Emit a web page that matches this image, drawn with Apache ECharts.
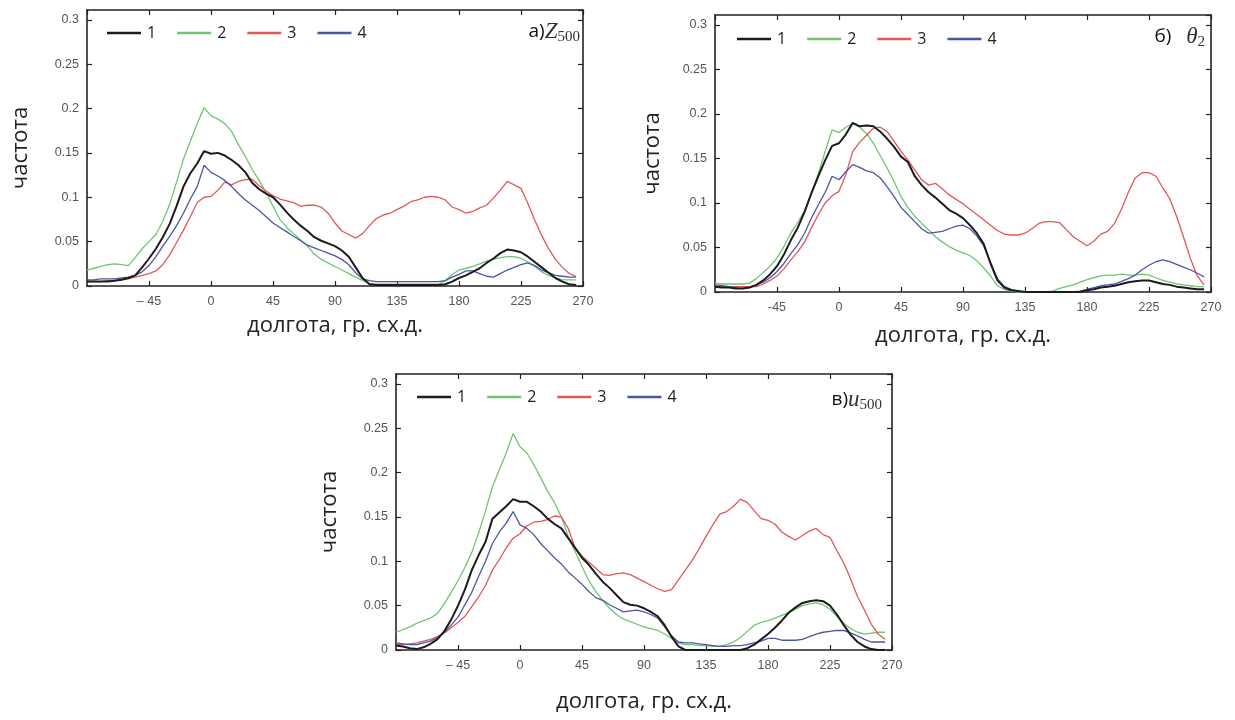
<!DOCTYPE html>
<html>
<head>
<meta charset="utf-8">
<script src="https://cdn.jsdelivr.net/npm/echarts@6/dist/echarts.min.js"></script>
<style>
  html, body { margin: 0; padding: 0; background: #fff; }
  #chart { width: 1235px; height: 720px; }
</style>
</head>
<body>
<div id="chart"></div>
<script>
// longitude, deg E (shared by every curve)
var lon = [-90, -85, -80, -75, -70, -65, -60, -55, -50, -45, -40, -35, -30, -25, -20, -15, -10, -5,
  0, 5, 10, 15, 20, 25, 30, 35, 40, 45, 50, 55, 60, 65, 70, 75, 80, 85,
  90, 95, 100, 105, 110, 115, 120, 125, 130, 135, 140, 145, 150, 155, 160, 165, 170, 175,
  180, 185, 190, 195, 200, 205, 210, 215, 220, 225, 230, 235, 240, 245, 250, 255, 260, 265];

var xTicks = [-90, -45, 0, 45, 90, 135, 180, 225, 270];
var yTicks = [0, 0.05, 0.1, 0.15, 0.2, 0.25, 0.3];
var names = ['1', '2', '3', '4'];

// а) Z500
var z500_1 = [0.005, 0.005, 0.005, 0.005, 0.006, 0.007, 0.009, 0.012, 0.021, 0.031, 0.042, 0.055, 0.070, 0.090, 0.112, 0.127, 0.138, 0.152,
  0.149, 0.150, 0.147, 0.142, 0.136, 0.128, 0.116, 0.109, 0.104, 0.100, 0.092, 0.083, 0.075, 0.068, 0.062, 0.055, 0.051, 0.048,
  0.045, 0.040, 0.033, 0.021, 0.009, 0.002, 0.001, 0.001, 0.001, 0.001, 0.001, 0.001, 0.001, 0.001, 0.001, 0.001, 0.002, 0.005,
  0.009, 0.012, 0.016, 0.020, 0.026, 0.031, 0.037, 0.041, 0.040, 0.038, 0.033, 0.027, 0.021, 0.015, 0.009, 0.005, 0.002, 0.001];
var z500_2 = [0.018, 0.020, 0.022, 0.024, 0.025, 0.024, 0.023, 0.032, 0.042, 0.050, 0.058, 0.073, 0.092, 0.117, 0.143, 0.163, 0.183, 0.201,
  0.192, 0.188, 0.183, 0.174, 0.159, 0.146, 0.131, 0.119, 0.105, 0.090, 0.075, 0.066, 0.059, 0.052, 0.045, 0.036, 0.030, 0.026,
  0.022, 0.018, 0.014, 0.010, 0.006, 0.003, 0.002, 0.002, 0.002, 0.002, 0.002, 0.002, 0.002, 0.002, 0.002, 0.002, 0.006, 0.013,
  0.018, 0.020, 0.022, 0.025, 0.028, 0.030, 0.032, 0.033, 0.033, 0.031, 0.027, 0.022, 0.016, 0.012, 0.009, 0.007, 0.007, 0.007];
var z500_3 = [0.005, 0.005, 0.005, 0.006, 0.006, 0.007, 0.008, 0.010, 0.012, 0.014, 0.017, 0.024, 0.035, 0.049, 0.063, 0.078, 0.094, 0.100,
  0.101, 0.108, 0.117, 0.114, 0.118, 0.120, 0.120, 0.113, 0.107, 0.102, 0.098, 0.096, 0.094, 0.090, 0.091, 0.091, 0.089, 0.082,
  0.071, 0.062, 0.058, 0.054, 0.059, 0.068, 0.076, 0.080, 0.082, 0.086, 0.090, 0.095, 0.097, 0.100, 0.101, 0.100, 0.097, 0.089,
  0.086, 0.082, 0.084, 0.088, 0.091, 0.099, 0.108, 0.118, 0.114, 0.110, 0.093, 0.074, 0.057, 0.042, 0.030, 0.021, 0.014, 0.011];
var z500_4 = [0.007, 0.007, 0.008, 0.008, 0.008, 0.009, 0.010, 0.012, 0.016, 0.023, 0.033, 0.045, 0.056, 0.068, 0.082, 0.098, 0.112, 0.136,
  0.128, 0.124, 0.119, 0.112, 0.104, 0.097, 0.091, 0.085, 0.078, 0.071, 0.066, 0.061, 0.056, 0.051, 0.046, 0.043, 0.040, 0.037,
  0.034, 0.030, 0.024, 0.015, 0.008, 0.006, 0.005, 0.005, 0.005, 0.005, 0.005, 0.005, 0.005, 0.005, 0.005, 0.005, 0.006, 0.010,
  0.013, 0.017, 0.017, 0.014, 0.011, 0.010, 0.014, 0.018, 0.021, 0.024, 0.026, 0.023, 0.018, 0.015, 0.012, 0.011, 0.010, 0.010];

// б) theta2
var th2_1 = [0.006, 0.005, 0.005, 0.004, 0.004, 0.005, 0.008, 0.013, 0.020, 0.029, 0.042, 0.058, 0.072, 0.090, 0.111, 0.130, 0.148, 0.164,
  0.167, 0.177, 0.190, 0.186, 0.187, 0.186, 0.180, 0.172, 0.163, 0.152, 0.146, 0.130, 0.120, 0.112, 0.106, 0.099, 0.092, 0.088,
  0.083, 0.075, 0.066, 0.054, 0.032, 0.013, 0.005, 0.002, 0.001, 0.000, 0.000, 0.000, 0.000, 0.000, 0.000, 0.000, 0.000, 0.000,
  0.002, 0.003, 0.005, 0.006, 0.007, 0.009, 0.011, 0.012, 0.013, 0.013, 0.011, 0.009, 0.008, 0.006, 0.005, 0.004, 0.003, 0.003];
var th2_2 = [0.010, 0.009, 0.009, 0.009, 0.009, 0.010, 0.015, 0.022, 0.029, 0.038, 0.051, 0.066, 0.078, 0.091, 0.111, 0.133, 0.158, 0.182,
  0.179, 0.185, 0.189, 0.185, 0.178, 0.167, 0.153, 0.139, 0.124, 0.107, 0.095, 0.085, 0.077, 0.070, 0.062, 0.056, 0.051, 0.047,
  0.044, 0.041, 0.035, 0.027, 0.018, 0.007, 0.003, 0.001, 0.000, 0.000, 0.000, 0.000, 0.000, 0.001, 0.004, 0.006, 0.008, 0.011,
  0.014, 0.016, 0.018, 0.019, 0.019, 0.020, 0.019, 0.019, 0.020, 0.019, 0.016, 0.013, 0.011, 0.009, 0.008, 0.007, 0.006, 0.006];
var th2_3 = [0.006, 0.006, 0.006, 0.006, 0.006, 0.006, 0.006, 0.009, 0.013, 0.018, 0.026, 0.036, 0.045, 0.056, 0.072, 0.087, 0.100, 0.108,
  0.113, 0.132, 0.158, 0.168, 0.176, 0.184, 0.185, 0.180, 0.169, 0.158, 0.148, 0.137, 0.126, 0.120, 0.122, 0.116, 0.109, 0.104,
  0.099, 0.093, 0.087, 0.081, 0.075, 0.069, 0.065, 0.064, 0.064, 0.066, 0.071, 0.077, 0.079, 0.079, 0.078, 0.070, 0.062, 0.057,
  0.052, 0.057, 0.065, 0.068, 0.077, 0.093, 0.112, 0.128, 0.134, 0.134, 0.130, 0.117, 0.105, 0.085, 0.062, 0.038, 0.018, 0.008];
var th2_4 = [0.008, 0.007, 0.006, 0.005, 0.004, 0.005, 0.008, 0.011, 0.016, 0.023, 0.032, 0.043, 0.053, 0.066, 0.083, 0.098, 0.112, 0.130,
  0.126, 0.135, 0.143, 0.140, 0.136, 0.134, 0.128, 0.118, 0.107, 0.095, 0.087, 0.079, 0.071, 0.066, 0.067, 0.068, 0.071, 0.074,
  0.075, 0.071, 0.063, 0.052, 0.033, 0.015, 0.006, 0.003, 0.001, 0.000, 0.000, 0.000, 0.000, 0.000, 0.000, 0.000, 0.000, 0.001,
  0.003, 0.005, 0.007, 0.008, 0.009, 0.012, 0.015, 0.019, 0.025, 0.030, 0.034, 0.036, 0.034, 0.031, 0.028, 0.025, 0.021, 0.017];

// в) u500
var u500_1 = [0.005, 0.004, 0.002, 0.001, 0.003, 0.007, 0.012, 0.021, 0.034, 0.050, 0.068, 0.090, 0.107, 0.122, 0.148, 0.155, 0.162, 0.170,
  0.167, 0.167, 0.162, 0.156, 0.148, 0.142, 0.137, 0.126, 0.115, 0.104, 0.096, 0.086, 0.077, 0.070, 0.062, 0.054, 0.051, 0.050,
  0.047, 0.043, 0.038, 0.028, 0.015, 0.004, 0.000, 0.000, 0.000, 0.000, 0.000, 0.000, 0.000, 0.000, 0.000, 0.002, 0.006, 0.012,
  0.018, 0.025, 0.033, 0.042, 0.048, 0.053, 0.055, 0.056, 0.055, 0.050, 0.040, 0.028, 0.017, 0.009, 0.004, 0.001, 0.000, 0.000];
var u500_2 = [0.020, 0.023, 0.026, 0.030, 0.033, 0.036, 0.041, 0.052, 0.065, 0.078, 0.093, 0.110, 0.132, 0.157, 0.184, 0.203, 0.222, 0.244,
  0.229, 0.222, 0.209, 0.194, 0.179, 0.166, 0.150, 0.128, 0.111, 0.094, 0.078, 0.066, 0.056, 0.047, 0.040, 0.035, 0.032, 0.029,
  0.026, 0.024, 0.022, 0.018, 0.013, 0.008, 0.006, 0.006, 0.005, 0.005, 0.004, 0.004, 0.006, 0.009, 0.014, 0.021, 0.028, 0.031,
  0.033, 0.036, 0.039, 0.042, 0.046, 0.050, 0.052, 0.053, 0.051, 0.046, 0.038, 0.030, 0.024, 0.020, 0.018, 0.019, 0.020, 0.020];
var u500_3 = [0.006, 0.006, 0.007, 0.008, 0.010, 0.012, 0.015, 0.019, 0.025, 0.031, 0.038, 0.049, 0.060, 0.073, 0.090, 0.102, 0.115, 0.126,
  0.131, 0.140, 0.144, 0.145, 0.147, 0.151, 0.150, 0.137, 0.115, 0.106, 0.099, 0.092, 0.085, 0.084, 0.086, 0.087, 0.085, 0.081,
  0.077, 0.073, 0.069, 0.066, 0.068, 0.079, 0.090, 0.101, 0.114, 0.128, 0.141, 0.153, 0.156, 0.162, 0.170, 0.166, 0.157, 0.148,
  0.146, 0.142, 0.133, 0.128, 0.124, 0.129, 0.134, 0.137, 0.130, 0.127, 0.112, 0.098, 0.080, 0.060, 0.045, 0.029, 0.018, 0.012];
var u500_4 = [0.008, 0.007, 0.006, 0.006, 0.008, 0.010, 0.014, 0.020, 0.028, 0.037, 0.051, 0.065, 0.083, 0.100, 0.120, 0.133, 0.143, 0.156,
  0.141, 0.137, 0.130, 0.120, 0.112, 0.104, 0.097, 0.088, 0.081, 0.074, 0.066, 0.059, 0.056, 0.051, 0.047, 0.043, 0.044, 0.045,
  0.043, 0.040, 0.036, 0.026, 0.016, 0.009, 0.008, 0.008, 0.007, 0.006, 0.005, 0.004, 0.004, 0.005, 0.005, 0.006, 0.008, 0.010,
  0.013, 0.013, 0.011, 0.011, 0.011, 0.012, 0.015, 0.018, 0.020, 0.021, 0.022, 0.022, 0.019, 0.016, 0.012, 0.009, 0.009, 0.009];

var colors = ['#1c1c1c', '#72c472', '#e0585a', '#4a56a6'];
var widths = [2, 1.3, 1.3, 1.3];

var panels = [
  { grid: { left: 87, top: 10, width: 496, height: 276 }, data: [z500_1, z500_2, z500_3, z500_4],
    legend: { left: 107, top: 25 }, yGap: 55, xGap: 29, dash: '– ',
    title: { text: '{t|а)}{m|Z}{s|500}', right: 655, top: 19 } },
  { grid: { left: 715, top: 15, width: 496, height: 277 }, data: [th2_1, th2_2, th2_3, th2_4],
    legend: { left: 737, top: 31 }, yGap: 51, xGap: 33, dash: '-',
    title: { text: '{t|б)   }{m|θ}{s|2}', right: 30, top: 24 } },
  { grid: { left: 396, top: 374, width: 496, height: 276 }, data: [u500_1, u500_2, u500_3, u500_4],
    legend: { left: 417, top: 389 }, yGap: 55, xGap: 41, dash: '– ',
    title: { text: '{t|в)}{m|u}{s|500}', right: 353, top: 387 } }
];

var frame = { show: true, onZero: false, lineStyle: { color: '#222', width: 1.6 } };
var tickIn = { show: true, inside: true, length: 5, lineStyle: { color: '#222', width: 1.2 } };
var tickFont = { fontFamily: 'Liberation Sans', fontSize: 12.5, color: '#555' };
var nameFont = { fontFamily: 'Open Sans', fontSize: 22, color: '#222' };

var option = { animation: false, grid: [], xAxis: [], yAxis: [], legend: [], title: [], series: [] };

panels.forEach(function (p, k) {
  option.grid.push(p.grid);
  option.xAxis.push({
    type: 'value', gridIndex: k, position: 'bottom', min: xTicks[0], max: xTicks[xTicks.length - 1], interval: 45,
    axisLine: frame, axisTick: tickIn, splitLine: { show: false },
    axisLabel: Object.assign({ margin: 9, showMinLabel: false, formatter: function (v) {
      return v < 0 ? p.dash + Math.abs(v) : String(v);
    } }, tickFont),
    name: 'долгота, гр. сх.д.', nameLocation: 'middle', nameGap: p.xGap, nameTextStyle: nameFont
  });
  option.xAxis.push({
    type: 'value', gridIndex: k, position: 'top', min: xTicks[0], max: xTicks[xTicks.length - 1], interval: 45,
    axisLine: frame, axisTick: tickIn, axisLabel: { show: false }, splitLine: { show: false }
  });
  option.yAxis.push({
    type: 'value', gridIndex: k, position: 'left', min: yTicks[0], max: 0.311, interval: 0.05,
    axisLine: frame, axisTick: tickIn, splitLine: { show: false },
    axisLabel: Object.assign({ margin: 8, showMaxLabel: false }, tickFont),
    name: 'частота', nameLocation: 'middle', nameGap: p.yGap, nameRotate: 90, nameTextStyle: nameFont
  });
  option.yAxis.push({
    type: 'value', gridIndex: k, position: 'right', min: yTicks[0], max: 0.311, interval: 0.05,
    axisLine: frame, axisTick: tickIn, axisLabel: { show: false }, splitLine: { show: false }
  });
  option.legend.push({
    data: names, left: p.legend.left, top: p.legend.top, icon: 'rect', itemWidth: 34, itemHeight: 2.5,
    itemGap: 21, padding: 0, selectedMode: false,
    textStyle: { fontFamily: 'Open Sans', fontSize: 16, color: '#222', padding: [0, 0, 0, 1] }
  });
  option.title.push({
    text: p.title.text, right: p.title.right, top: p.title.top, padding: 0,
    textStyle: {
      fontWeight: 'normal',
      rich: {
        t: { fontFamily: 'Open Sans', fontWeight: 'normal', fontSize: 19, color: '#111', lineHeight: 26, verticalAlign: 'middle' },
        m: { fontFamily: 'Liberation Serif', fontStyle: 'italic', fontWeight: 'normal', fontSize: 23, color: '#333', lineHeight: 26, verticalAlign: 'middle' },
        s: { fontFamily: 'Liberation Serif', fontWeight: 'normal', fontSize: 15, color: '#333', lineHeight: 16, verticalAlign: 'bottom' }
      }
    }
  });
  p.data.forEach(function (vals, j) {
    option.series.push({
      name: names[j], type: 'line', xAxisIndex: 2 * k, yAxisIndex: 2 * k,
      showSymbol: false, symbol: 'none', z: j === 0 ? 5 : 3,
      itemStyle: { color: colors[j] },
      lineStyle: { color: colors[j], width: widths[j] },
      data: lon.map(function (x, i) { return [x, vals[i]]; })
    });
  });
});

var myChart = echarts.init(document.getElementById('chart'));
myChart.setOption(option);
window.addEventListener('resize', function () {
  myChart.resize();
});
</script>
</body>
</html>
